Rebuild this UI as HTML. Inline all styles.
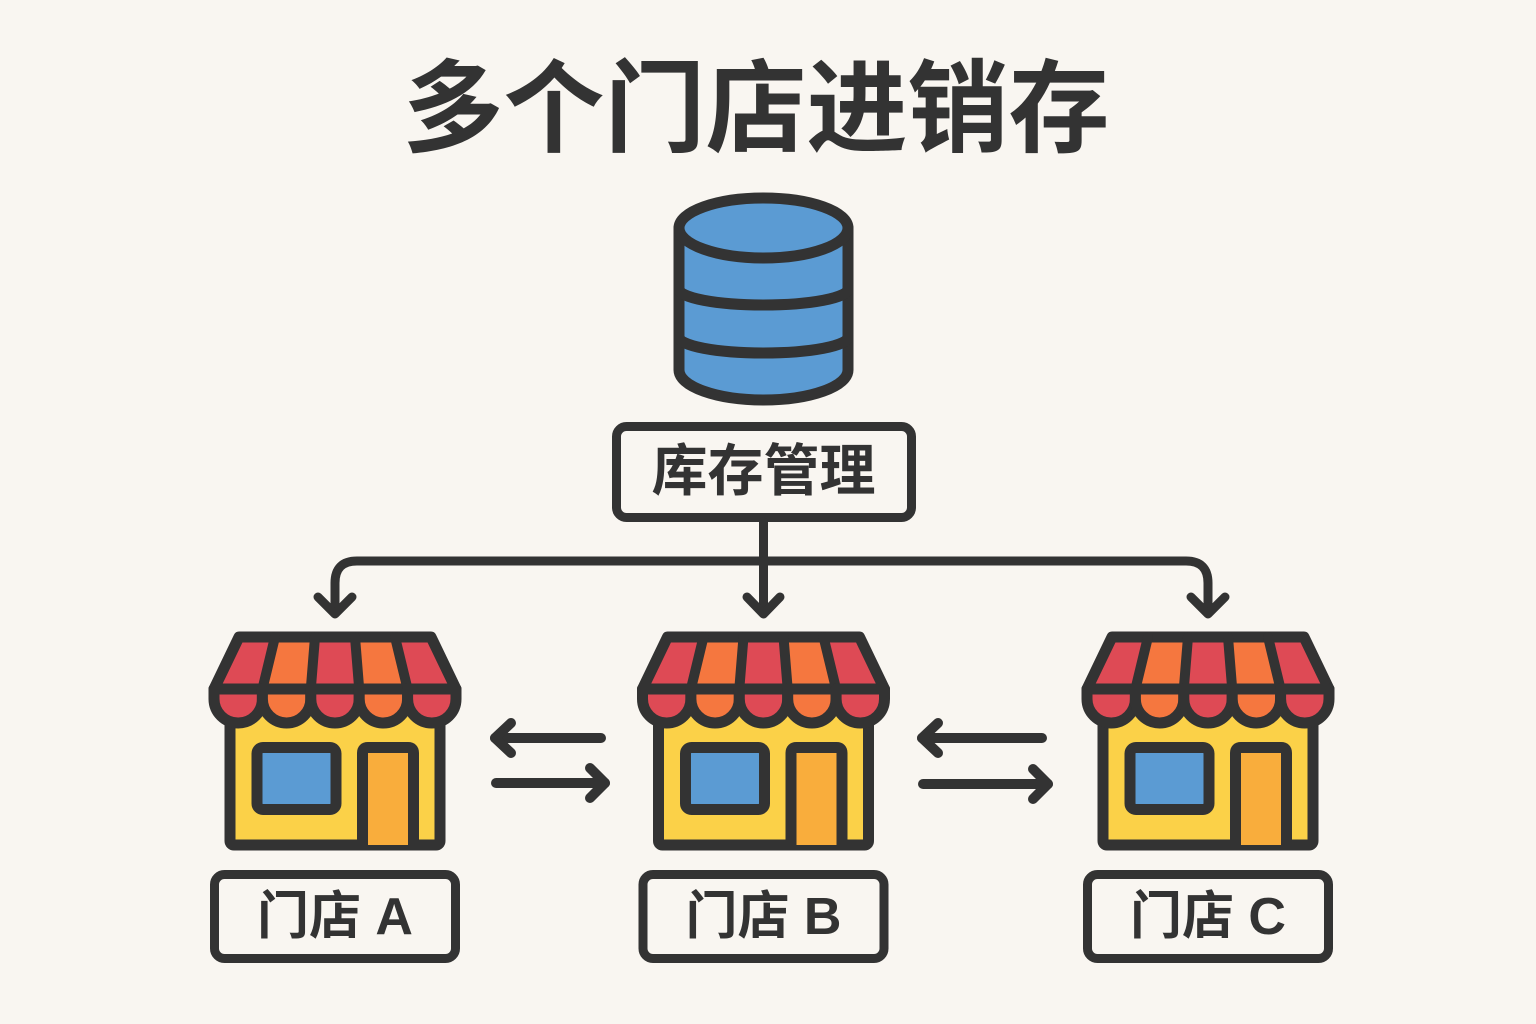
<!DOCTYPE html>
<html>
<head>
<meta charset="utf-8">
<style>
  html,body{margin:0;padding:0;background:#f9f6f1;}
  svg{display:block;}
  text{font-family:"Liberation Sans","Noto Sans CJK SC",sans-serif;fill:#333;}
</style>
</head>
<body>
<svg width="1536" height="1024" viewBox="0 0 1536 1024" xmlns="http://www.w3.org/2000/svg">
  <rect width="1536" height="1024" fill="#f9f6f1"/>
  <defs>
    <g id="store">
      <!-- body -->
      <rect x="-105" y="700" width="210" height="145" rx="4" fill="#fbd148" stroke="#333" stroke-width="11" stroke-linejoin="round"/>
      <!-- window -->
      <rect x="-78" y="747.5" width="79" height="62" rx="6" fill="#5b9bd3" stroke="#333" stroke-width="11"/>
      <!-- door -->
      <path d="M27.5,845 V753 Q27.5,747.5 33,747.5 H73 Q78.5,747.5 78.5,753 V845" fill="#f9ad3c" stroke="#333" stroke-width="11" stroke-linejoin="round"/>
      <!-- awning stripes -->
      <polygon points="-96,637 -60,637 -72.6,689 -121,689" fill="#de4a55"/>
      <polygon points="-60,637 -20,637 -24.2,689 -72.6,689" fill="#f5773f"/>
      <polygon points="-20,637 20,637 24.2,689 -24.2,689" fill="#de4a55"/>
      <polygon points="20,637 60,637 72.6,689 24.2,689" fill="#f5773f"/>
      <polygon points="60,637 96,637 121,689 72.6,689" fill="#de4a55"/>
      <polygon points="-96,637 96,637 121,689 -121,689" fill="none" stroke="#333" stroke-width="11" stroke-linejoin="round"/>
      <g stroke="#333" stroke-width="10" stroke-linecap="round">
        <line x1="-60" y1="637" x2="-72.6" y2="689"/>
        <line x1="-20" y1="637" x2="-24.2" y2="689"/>
        <line x1="20" y1="637" x2="24.2" y2="689"/>
        <line x1="60" y1="637" x2="72.6" y2="689"/>
      </g>
      <!-- scallops -->
      <g stroke="#333" stroke-width="11" stroke-linejoin="round">
        <path d="M-121,689 V699 A24.2,24 0 0 0 -72.6,699 V689 Z" fill="#de4a55"/>
        <path d="M-72.6,689 V699 A24.2,24 0 0 0 -24.2,699 V689 Z" fill="#f5773f"/>
        <path d="M-24.2,689 V699 A24.2,24 0 0 0 24.2,699 V689 Z" fill="#de4a55"/>
        <path d="M24.2,689 V699 A24.2,24 0 0 0 72.6,699 V689 Z" fill="#f5773f"/>
        <path d="M72.6,689 V699 A24.2,24 0 0 0 121,699 V689 Z" fill="#de4a55"/>
      </g>
      <!-- label box -->
      <rect x="-120.5" y="874.5" width="241" height="84" rx="10" fill="#f9f6f1" stroke="#333" stroke-width="9"/>
    </g>
  </defs>

  <!-- Title -->
  <text x="756" y="110" font-size="101" font-weight="bold" text-anchor="middle" dominant-baseline="central">多个门店进销存</text>

  <!-- Database -->
  <g stroke="#333" stroke-width="11" stroke-linejoin="round" fill="#5b9bd3">
    <path d="M679,228 V370 A84.5,30 0 0 0 848,370 V228 Z"/>
    <ellipse cx="763.5" cy="228" rx="84.5" ry="30"/>
    <path d="M679,289 A84.5,16 0 0 0 848,289" fill="none"/>
    <path d="M679,337 A84.5,16 0 0 0 848,337" fill="none"/>
  </g>

  <!-- Inventory management box -->
  <rect x="616.5" y="426.5" width="295" height="91" rx="10" fill="#f9f6f1" stroke="#333" stroke-width="9"/>
  <text x="763.5" y="471" font-size="56" font-weight="bold" text-anchor="middle" dominant-baseline="central">库存管理</text>

  <!-- Connectors -->
  <g fill="none" stroke="#333" stroke-width="9" stroke-linecap="round" stroke-linejoin="round">
    <path d="M763.5,522 V613"/>
    <path d="M763.5,561 H357 Q335,561 335,583 V613"/>
    <path d="M763.5,561 H1186 Q1208,561 1208,583 V613"/>
    <polyline points="318,597 335,614 352,597"/>
    <polyline points="747,597 763.5,614 780,597"/>
    <polyline points="1191,597 1208,614 1225,597"/>
  </g>

  <!-- Stores -->
  <use href="#store" transform="translate(335,0)"/>
  <use href="#store" transform="translate(763.5,0)"/>
  <use href="#store" transform="translate(1208,0)"/>

  <text x="335" y="917" font-size="52" font-weight="bold" text-anchor="middle" dominant-baseline="central">门店 A</text>
  <text x="763.5" y="917" font-size="52" font-weight="bold" text-anchor="middle" dominant-baseline="central">门店 B</text>
  <text x="1208" y="917" font-size="52" font-weight="bold" text-anchor="middle" dominant-baseline="central">门店 C</text>

  <!-- Bidirectional arrows -->
  <g fill="none" stroke="#333" stroke-width="10" stroke-linecap="round" stroke-linejoin="round">
    <path d="M601,738 H495"/>
    <polyline points="511,723 495,738 511,753"/>
    <path d="M496,783 H605"/>
    <polyline points="590,768 605,783 590,798"/>

    <path d="M1042,738 H922"/>
    <polyline points="938,723 922,738 938,753"/>
    <path d="M923,784 H1048"/>
    <polyline points="1033,769 1048,784 1033,799"/>
  </g>
</svg>
</body>
</html>
